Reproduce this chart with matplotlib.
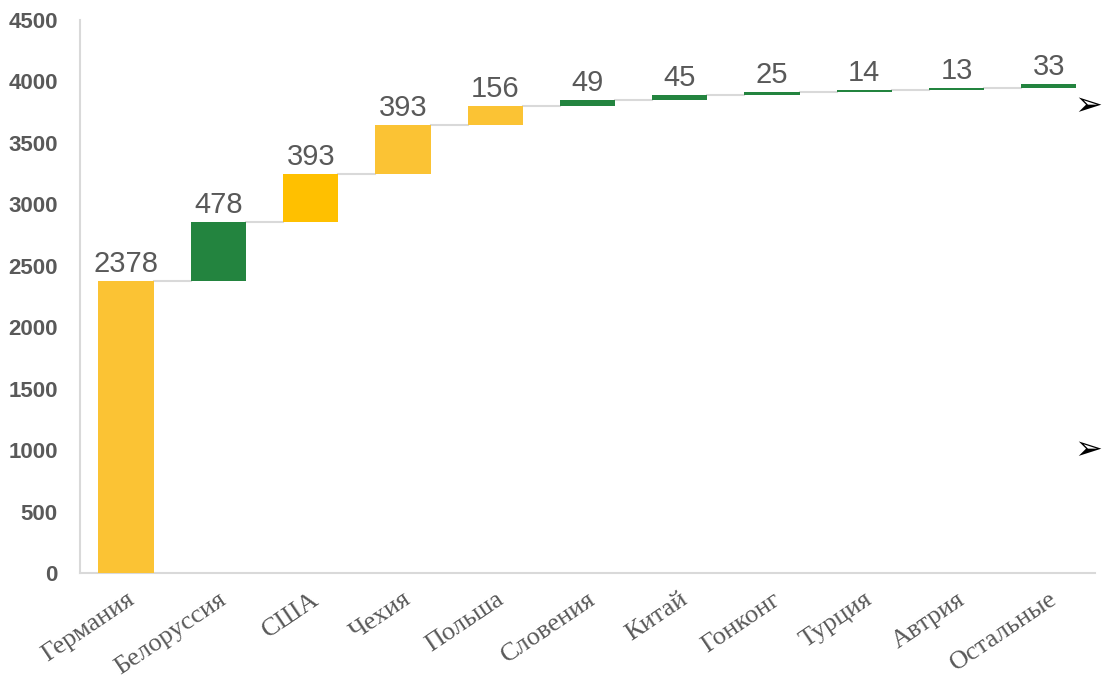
import matplotlib
matplotlib.use("Agg")
import matplotlib.pyplot as plt

# data
countries = ["Германия", "Белоруссия", "США", "Чехия", "Польша", "Словения",
             "Китай", "Гонконг", "Турция", "Автрия", "Остальные"]
values = [2378, 478, 393, 393, 156, 49, 45, 25, 14, 13, 33]
colors = ["#FBC334", "#23843F", "#FFC000", "#FBC334", "#FBC334", "#23843F",
          "#23843F", "#23843F", "#23843F", "#23843F", "#23843F"]
yticks = [0, 500, 1000, 1500, 2000, 2500, 3000, 3500, 4000, 4500]

fig = plt.figure(figsize=(11.04, 6.81), dpi=100)
ax = fig.add_axes([0.0725, 0.1586, 0.9193, 0.812])

width = 0.6
bottoms = []
total = 0
for v in values:
    bottoms.append(total)
    total += v

ax.bar(range(len(values)), values, bottom=bottoms, width=width,
       color=colors, linewidth=0, zorder=3)

# connectors
for i in range(len(values) - 1):
    lvl = bottoms[i] + values[i]
    ax.plot([i + width / 2, i + 1 - width / 2], [lvl, lvl],
            color="#D9D9D9", lw=1.5, zorder=2)

# value labels
for i, v in enumerate(values):
    ax.text(i, bottoms[i] + v + 25, str(v), ha="center", va="bottom",
            fontsize=21, color="#595959", family="Liberation Sans")

ax.set_xlim(-0.5, 10.5)
ax.set_ylim(0, 4500)
ax.set_yticks(yticks)
ax.set_yticklabels([str(t) for t in yticks], fontsize=16, fontweight="bold",
                   color="#595959", family="Liberation Sans")
ax.set_xticks(range(len(countries)))
ax.set_xticklabels(countries, rotation=34, ha="right", rotation_mode="anchor",
                   fontsize=19, color="#595959", family="Liberation Serif")
ax.tick_params(axis="both", length=0)
ax.tick_params(axis="y", pad=16)
ax.tick_params(axis="x", pad=11)

for s in ["top", "right"]:
    ax.spines[s].set_visible(False)
for s in ["left", "bottom"]:
    ax.spines[s].set_color("#D9D9D9")
    ax.spines[s].set_linewidth(1.5)

# bullet arrows from slide
for yy in [0.845, 0.34]:
    fig.text(0.998, yy, "➢", fontsize=24, color="black", ha="right",
             va="center", family="DejaVu Sans")

fig.savefig("out.png", dpi=100)
